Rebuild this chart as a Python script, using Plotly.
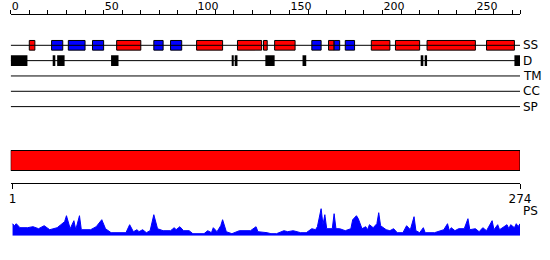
import plotly.graph_objects as go

# ---------------- data ----------------
seq_len = 274
top_tick_vals = list(range(0, 271, 10))
top_label_vals = [0, 50, 100, 150, 200, 250]
bottom_tick_vals = [1, 274]

track_names = ["SS", "D", "TM", "CC", "SP"]

helix_start = [11, 58, 101, 123, 137, 143, 172, 195, 208, 225, 257]
helix_end = [13, 70, 114, 135, 138, 153, 174, 204, 220, 250, 271]

strand_start = [23, 32, 45, 78, 87, 163, 175, 181]
strand_end = [28, 40, 50, 82, 92, 167, 177, 185]

dis_start = [1, 24, 26, 55, 120, 122, 138, 158, 222, 224, 272]
dis_end = [9, 24, 29, 58, 120, 122, 142, 159, 222, 224, 274]

domain_start = [1]
domain_end = [274]

ps_pos = [1, 2, 3, 5, 9, 12, 15, 18, 21, 25, 27, 29, 30, 32, 34, 35, 37, 38, 43, 46,
          49, 51, 54, 62, 64, 66, 68, 69, 71, 73, 75, 77, 79, 82, 86, 88, 89, 91, 93, 96,
          98, 104, 106, 108, 109, 111, 113, 114, 116, 119, 123, 129, 132, 133, 138, 140,
          143, 147, 149, 152, 156, 159, 162, 164, 165, 167, 168, 169, 170, 173, 174, 175,
          177, 180, 183, 184, 186, 187, 189, 191, 192, 193, 195, 197, 198, 199, 202, 204,
          206, 208, 211, 213, 215, 217, 218, 220, 222, 223, 228, 233, 235, 236, 237, 239,
          241, 244, 246, 247, 250, 252, 254, 256, 259, 260, 262, 263, 267, 268, 269, 271,
          272, 273, 274]
ps_val = [12, 10, 12, 8, 8, 9, 7, 10, 6, 8, 11, 14, 20, 7, 15, 6, 20, 6, 6, 9,
          16, 7, 3, 3, 11, 4, 6, 4, 6, 3, 5, 21, 7, 5, 5, 8, 6, 9, 5, 5,
          2, 2, 5, 3, 8, 4, 10, 16, 4, 2, 5, 5, 9, 4, 3, 2,
          2, 5, 4, 5, 3, 3, 7, 6, 9, 27, 11, 21, 7, 7, 22, 7,
          7, 5, 7, 16, 20, 17, 7, 9, 6, 11, 8, 12, 23, 10, 6, 5,
          7, 3, 3, 10, 6, 19, 5, 3, 8, 3, 3, 6, 12, 5, 8, 5,
          7, 7, 17, 6, 7, 4, 8, 5, 15, 6, 11, 6, 11, 7, 11, 8,
          12, 9, 12]

# ---------------- layout geometry ----------------
W, H = 550, 260
X0_PX, X1_PX = 10.7, 520.0
ROW0_PX, ROW_STEP = 45.3, 15.33
FONT = "DejaVu Sans"


def py(px):
    return 1 - px / H


def row_of(px):
    return (px - ROW0_PX) / ROW_STEP


xdom = [X0_PX / W, X1_PX / W]
fig = go.Figure()

# track lines
for i, name in enumerate(track_names):
    fig.add_trace(go.Scatter(x=[0, seq_len], y=[i, i], mode="lines",
                             line=dict(color="black", width=1),
                             hoverinfo="skip", showlegend=False))


def add_boxes(starts, ends, row, color, width, outline):
    fig.add_trace(go.Bar(
        orientation="h",
        base=[s - 1 for s in starts],
        x=[e - s + 1 for s, e in zip(starts, ends)],
        y=[row] * len(starts),
        width=width,
        marker=dict(color=color, line=dict(color="black", width=outline)),
        showlegend=False, hoverinfo="skip"))


add_boxes(helix_start, helix_end, 0, "#ff0000", 0.63, 1)
add_boxes(strand_start, strand_end, 0, "#0000ff", 0.63, 1)
add_boxes(dis_start, dis_end, 1, "#000000", 0.70, 0)

# domain bar (on bottom axis)
fig.add_trace(go.Bar(
    orientation="h",
    base=[s - 1 for s in domain_start],
    x=[e - s + 1 for s, e in zip(domain_start, domain_end)],
    y=[row_of(160.5)] * len(domain_start),
    width=20 / ROW_STEP,
    marker=dict(color="#ff0000", line=dict(color="black", width=1)),
    xaxis="x2", yaxis="y",
    showlegend=False, hoverinfo="skip"))

# PS profile
fig.add_trace(go.Scatter(
    x=ps_pos, y=ps_val, mode="lines", fill="tozeroy",
    line=dict(color="#0000ff", width=1), fillcolor="#0000ff",
    xaxis="x", yaxis="y2", showlegend=False, hoverinfo="skip"))

top_text = [str(v) if v in top_label_vals else "" for v in top_tick_vals] + [""]

fig.update_layout(
    width=W, height=H,
    margin=dict(l=0, r=0, t=0, b=0, pad=0, autoexpand=False),
    paper_bgcolor="white", plot_bgcolor="white",
    barmode="overlay",
    font=dict(family=FONT, size=12, color="black"),
    xaxis=dict(domain=xdom, range=[0, seq_len], side="top", anchor="free",
               position=py(14.3), showline=True, linecolor="black", linewidth=1,
               ticks="outside", ticklen=4, tickcolor="black", tickwidth=1,
               tickvals=top_tick_vals + [seq_len], ticktext=top_text,
               ticklabelposition="outside right",
               tickfont=dict(family=FONT, size=11, color="black"),
               showgrid=False, zeroline=False, fixedrange=True, automargin=False),
    xaxis2=dict(domain=xdom, range=[0, seq_len], side="bottom", anchor="free",
                overlaying="x", position=py(182.5), showline=True, linecolor="black",
                linewidth=1, ticks="outside", ticklen=5, tickcolor="black",
                tickvals=bottom_tick_vals, ticktext=[str(v) for v in bottom_tick_vals],
                tickfont=dict(family=FONT, size=12, color="black"),
                showgrid=False, zeroline=False, fixedrange=True, automargin=False),
    yaxis=dict(domain=[0, 1],
               range=[row_of(H), row_of(0)],
               visible=False, showgrid=False, zeroline=False, fixedrange=True,
               automargin=False),
    yaxis2=dict(domain=[py(235.7), py(205.7)], range=[0, 30], anchor="x",
                visible=False, showgrid=False, zeroline=False, fixedrange=True,
                automargin=False),
)

annotations = []
for i, name in enumerate(track_names):
    annotations.append(dict(x=521 / W, xref="paper", y=i, yref="y", text=name,
                            showarrow=False, xanchor="left", yanchor="middle",
                            font=dict(family=FONT, size=12, color="black")))
annotations.append(dict(x=521 / W, xref="paper", y=py(211), yref="paper", text="PS",
                        showarrow=False, xanchor="left", yanchor="middle",
                        font=dict(family=FONT, size=12, color="black")))
fig.update_layout(annotations=annotations)

fig.write_html("out.html")
